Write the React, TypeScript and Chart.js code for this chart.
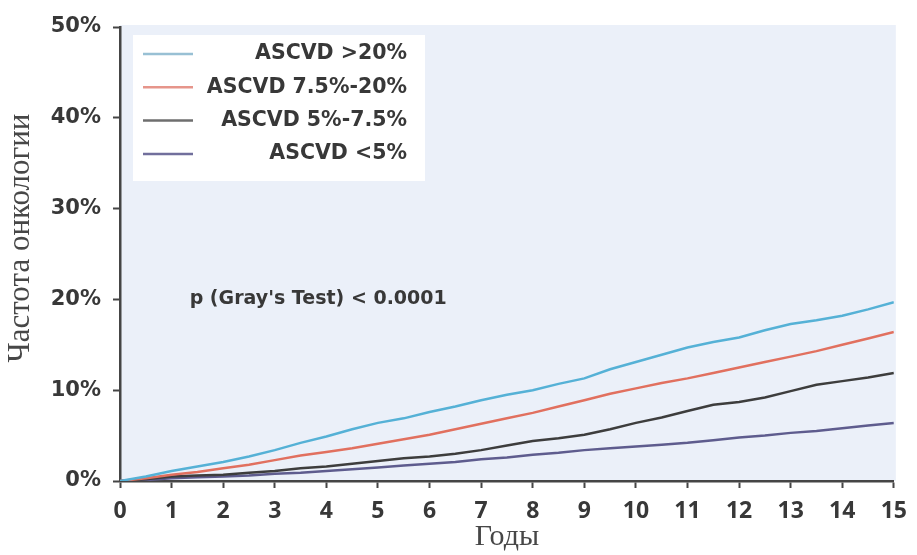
import React, { useEffect, useRef } from "react";
import { Chart, registerables } from "chart.js";

Chart.register(...registerables);

// ---- data ----
const years = [0, 0.5, 1, 1.5, 2, 2.5, 3, 3.5, 4, 4.5, 5, 5.5, 6, 6.5, 7, 7.5, 8, 8.5, 9, 9.5, 10, 10.5, 11, 11.5, 12, 12.5, 13, 13.5, 14, 14.5, 15];
const seriesNames = ["ASCVD >20%", "ASCVD 7.5%-20%", "ASCVD 5%-7.5%", "ASCVD <5%"];
const ascvdOver20 = [0, 0.5, 1.1, 1.6, 2.1, 2.7, 3.4, 4.2, 4.9, 5.7, 6.4, 6.9, 7.6, 8.2, 8.9, 9.5, 10.0, 10.7, 11.3, 12.3, 13.1, 13.9, 14.7, 15.3, 15.8, 16.6, 17.3, 17.7, 18.2, 18.9, 19.7];
const ascvd75to20 = [0, 0.3, 0.7, 1.0, 1.4, 1.8, 2.3, 2.8, 3.2, 3.6, 4.1, 4.6, 5.1, 5.7, 6.3, 6.9, 7.5, 8.2, 8.9, 9.6, 10.2, 10.8, 11.3, 11.9, 12.5, 13.1, 13.7, 14.3, 15.0, 15.7, 16.4];
const ascvd5to75 = [0, 0.2, 0.5, 0.6, 0.7, 0.9, 1.1, 1.4, 1.6, 1.9, 2.2, 2.5, 2.7, 3.0, 3.4, 3.9, 4.4, 4.7, 5.1, 5.7, 6.4, 7.0, 7.7, 8.4, 8.7, 9.2, 9.9, 10.6, 11.0, 11.4, 11.9];
const ascvdUnder5 = [0, 0.1, 0.3, 0.4, 0.5, 0.6, 0.8, 0.9, 1.1, 1.3, 1.5, 1.7, 1.9, 2.1, 2.4, 2.6, 2.9, 3.1, 3.4, 3.6, 3.8, 4.0, 4.2, 4.5, 4.8, 5.0, 5.3, 5.5, 5.8, 6.1, 6.4];
const yTickValues = [0, 10, 20, 30, 40, 50];
const xTickValues = [0, 1, 2, 3, 4, 5, 6, 7, 8, 9, 10, 11, 12, 13, 14, 15];
const pValueText = "p (Gray's Test) < 0.0001";
const yTitleText = "Частота онкологии";
const xTitleText = "Годы";

const lineColors = ["#55b1d6", "#e1705f", "#3d3d3d", "#5e5c8e"];
const legendColors = ["#98c0d4", "#e6958b", "#6e6e6e", "#716f9c"];
const textColor = "#383838";
const titleColor = "#474747";
const axisColor = "#454545";

export default function App() {
  const canvasRef = useRef<HTMLCanvasElement | null>(null);

  useEffect(() => {
    if (!canvasRef.current) return;
    const allSeries = [ascvdOver20, ascvd75to20, ascvd5to75, ascvdUnder5];

    const bgPlugin = {
      id: "plotBg",
      beforeDraw(chart: any) {
        const { ctx, chartArea } = chart;
        const { left, top, right, bottom } = chartArea;
        ctx.save();
        ctx.fillStyle = "#ebf0f9";
        ctx.fillRect(left, top - 2, right - left + 2, bottom - top + 2);
        ctx.restore();
      },
    };

    const overlayPlugin = {
      id: "overlay",
      afterDatasetsDraw(chart: any) {
        const { ctx, chartArea, scales } = chart;
        ctx.save();
        // legend box
        const bx = chartArea.left + 13;
        const by = chartArea.top + 8;
        const bw = 292;
        const bh = 146;
        ctx.fillStyle = "#ffffff";
        ctx.fillRect(bx, by, bw, bh);
        seriesNames.forEach((name, i) => {
          const cy = by + 19 + i * 33.3;
          ctx.strokeStyle = legendColors[i];
          ctx.lineWidth = 2.5;
          ctx.beginPath();
          ctx.moveTo(bx + 10, cy);
          ctx.lineTo(bx + 60, cy);
          ctx.stroke();
          ctx.fillStyle = textColor;
          ctx.font = 'bold 20.5px "DejaVu Sans"';
          ctx.textAlign = "right";
          ctx.textBaseline = "middle";
          ctx.fillText(name, bx + bw - 18, cy);
        });
        // p-value annotation
        ctx.fillStyle = textColor;
        ctx.font = 'bold 19px "DejaVu Sans"';
        ctx.textAlign = "left";
        ctx.textBaseline = "middle";
        ctx.fillText(pValueText, scales.x.getPixelForValue(1.35), scales.y.getPixelForValue(20));
        // y title
        ctx.translate(21, 238);
        ctx.rotate(-Math.PI / 2);
        ctx.font = '31px "Liberation Serif"';
        ctx.fillStyle = titleColor;
        ctx.textAlign = "center";
        ctx.textBaseline = "middle";
        ctx.fillText(yTitleText, 0, 0);
        ctx.restore();
      },
    };

    const chart = new Chart(canvasRef.current, {
      type: "line",
      data: {
        datasets: seriesNames.map((name, i) => ({
          label: name,
          data: years.map((x, j) => ({ x, y: allSeries[i][j] })),
          borderColor: lineColors[i],
          backgroundColor: lineColors[i],
          borderWidth: 2.5,
          pointRadius: 0,
          fill: false,
          tension: 0,
        })),
      },
      options: {
        animation: false,
        responsive: false,
        layout: { padding: { top: 27, right: 12, left: 0, bottom: 0 } },
        plugins: {
          legend: { display: false },
          tooltip: { enabled: false },
        },
        scales: {
          x: {
            type: "linear",
            min: 0,
            max: 15,
            afterBuildTicks: (scale: any) => {
              scale.ticks = xTickValues.map((v) => ({ value: v }));
            },
            afterFit: (scale: any) => {
              scale.height = 74;
            },
            ticks: {
              autoSkip: false,
              maxRotation: 0,
              padding: 10,
              color: textColor,
              font: { family: '"Open Sans"', size: 23, weight: "700" },
              callback: (v: any) => String(v),
            },
            grid: {
              drawOnChartArea: false,
              drawTicks: true,
              tickLength: 7,
              tickColor: axisColor,
              tickWidth: 2,
            },
            border: { display: true, color: axisColor, width: 2.5 },
            title: {
              display: true,
              text: xTitleText,
              color: titleColor,
              font: { family: '"Liberation Serif"', size: 30, weight: "normal" },
              padding: { top: 0, bottom: 0 },
            },
          },
          y: {
            min: 0,
            max: 50,
            afterBuildTicks: (scale: any) => {
              scale.ticks = yTickValues.map((v) => ({ value: v }));
            },
            afterFit: (scale: any) => {
              scale.width = 120;
            },
            ticks: {
              padding: 12,
              color: textColor,
              font: { family: '"DejaVu Sans"', size: 21, weight: "bold" },
              callback: (v: any) => v + "%",
            },
            grid: {
              drawOnChartArea: false,
              drawTicks: true,
              tickLength: 7,
              tickColor: axisColor,
              tickWidth: 2,
            },
            border: { display: true, color: axisColor, width: 2.5 },
          },
        },
      },
      plugins: [bgPlugin, overlayPlugin],
    } as any);

    return () => chart.destroy();
  }, []);

  return (
    <div style={{ position: "fixed", left: 0, top: 0, width: 917, height: 555, background: "#ffffff" }}>
      <canvas ref={canvasRef} width={917} height={555} />
    </div>
  );
}
